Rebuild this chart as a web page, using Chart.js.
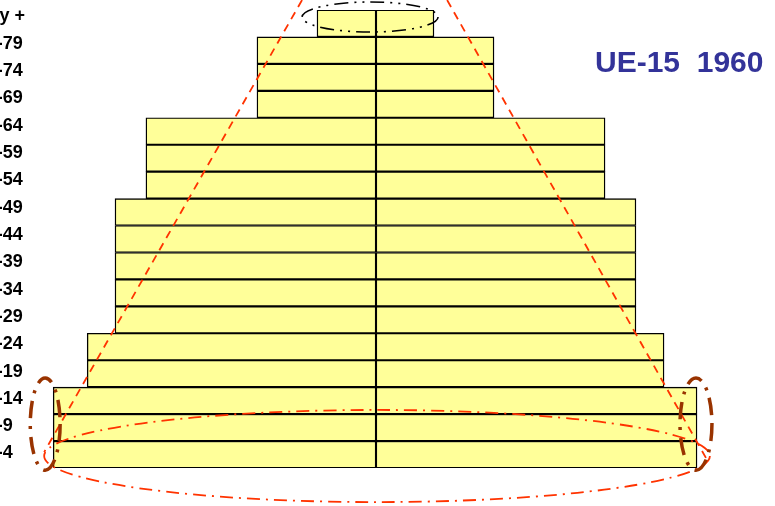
<!DOCTYPE html>
<html>
<head>
<meta charset="utf-8">
<script src="https://cdn.jsdelivr.net/npm/chart.js@4/dist/chart.umd.min.js"></script>
<style>
  html, body { margin: 0; padding: 0; background: #fff; }
  body { width: 775px; height: 506px; overflow: hidden; position: relative; }
  #wrap { position: absolute; left: -60px; top: 0; width: 835px; height: 506px; }
  #title { position: absolute; left: 595px; top: 47px; font: bold 30px "Liberation Sans", Arial, sans-serif; line-height: 30px; color: #333399; white-space: pre; }
</style>
</head>
<body>
<div id="wrap"><canvas id="c"></canvas></div>
<div id="title">UE-15  1960</div>
<script>
// Age groups, top to bottom
const ageGroups = ['80 y +', '75-79', '70-74', '65-69', '60-64', '55-59', '50-54', '45-49', '40-44', '35-39', '30-34', '25-29', '20-24', '15-19', '10-14', '5-9', '0-4'];
// Population by sex (millions)
const males   = [2.29, 4.62, 4.62, 4.62, 8.93, 8.93, 8.93, 10.13, 10.13, 10.13, 10.13, 10.13, 11.21, 11.21, 12.53, 12.53, 12.53];
const females = [2.25, 4.58, 4.58, 4.58, 8.89, 8.89, 8.89, 10.09, 10.09, 10.09, 10.09, 10.09, 11.18, 11.18, 12.46, 12.46, 12.46];

// Annotation guides in data units (x: millions, y: age-group rows counted from the bottom)
const guideLines = [
  { x1: -2.87, y1: 17.37, x2: -12.88, y2: 0.59 },
  { x1: 2.76,  y1: 17.37, x2: 12.81,  y2: 0.37 }
];
const guideEllipses = [
  { cx: -0.23, cy: 16.74, rx: 2.64,  ry: 0.557, color: '#000000', width: 1.6, dash: [14, 6, 2, 6, 2, 6] },
  { cx: 0.04,  cy: 0.445, rx: 12.92, ry: 1.71,  color: '#FF3300', width: 1.8, dash: [13, 6, 2, 6] },
  { cx: -12.84, cy: 1.63, rx: 0.58,  ry: 1.71,  color: '#993300', width: 3.5, dash: [17, 8, 3, 8] },
  { cx: 12.42,  cy: 1.63, rx: 0.62,  ry: 1.71,  color: '#993300', width: 3.5, dash: [17, 8, 3, 8] }
];

const annotPlugin = {
  id: 'annot',
  afterDatasetsDraw(chart) {
    const { ctx, scales } = chart;
    const sx = scales.x, sy = scales.ya;
    const px = v => sx.getPixelForValue(v);
    const py = v => sy.getPixelForValue(v);
    ctx.save();
    ctx.strokeStyle = '#FF3300';
    ctx.lineWidth = 1.8;
    ctx.setLineDash([8, 6]);
    for (const l of guideLines) {
      ctx.beginPath();
      ctx.moveTo(px(l.x1), py(l.y1));
      ctx.lineTo(px(l.x2), py(l.y2));
      ctx.stroke();
    }
    for (const e of guideEllipses) {
      const cx = px(e.cx), cy = py(e.cy);
      const rx = Math.abs(px(e.cx + e.rx) - cx);
      const ry = Math.abs(py(e.cy + e.ry) - cy);
      ctx.strokeStyle = e.color;
      ctx.lineWidth = e.width;
      ctx.setLineDash(e.dash);
      ctx.beginPath();
      ctx.ellipse(cx, cy, rx, ry, 0, 0, Math.PI * 2);
      ctx.stroke();
    }
    ctx.restore();
  }
};

const barStyle = {
  backgroundColor: '#FFFF99',
  borderColor: '#000000',
  borderWidth: 1.4,
  borderSkipped: false,
  categoryPercentage: 1,
  barPercentage: 1
};

new Chart(document.getElementById('c'), {
  type: 'bar',
  data: {
    labels: ageGroups,
    datasets: [
      Object.assign({ label: 'Hombres', data: males.map(v => -v) }, barStyle),
      Object.assign({ label: 'Mujeres', data: females }, barStyle)
    ]
  },
  options: {
    indexAxis: 'y',
    responsive: true,
    maintainAspectRatio: false,
    animation: false,
    layout: { padding: { left: 37, right: 53, top: 10, bottom: 38 } },
    plugins: { legend: { display: false }, tooltip: { enabled: false } },
    scales: {
      x: { stacked: true, min: -13.43, max: 13.43, display: false },
      y: { stacked: true, display: false, position: 'left' },
      ya: { type: 'linear', axis: 'y', position: 'left', min: 0, max: 17, offset: false, display: false },
      yl: {
        type: 'linear', axis: 'y', position: 'left',
        min: -0.531, max: 16.239, offset: false,
        grid: { display: false, drawTicks: false, offset: false },
        border: { display: false },
        afterFit: s => { s.width = 53; s.paddingTop = 0; s.paddingBottom = 0; },
        ticks: {
          stepSize: 1, includeBounds: false, autoSkip: false, maxTicksLimit: 30,
          crossAlign: 'center', padding: 5, color: '#000',
          font: { family: 'Liberation Sans', size: 18, weight: 'bold' },
          callback: v => (Number.isInteger(v) && v >= 0 && v < ageGroups.length) ? ageGroups[ageGroups.length - 1 - v] : ''
        }
      }
    }
  },
  plugins: [annotPlugin]
});
</script>
</body>
</html>
